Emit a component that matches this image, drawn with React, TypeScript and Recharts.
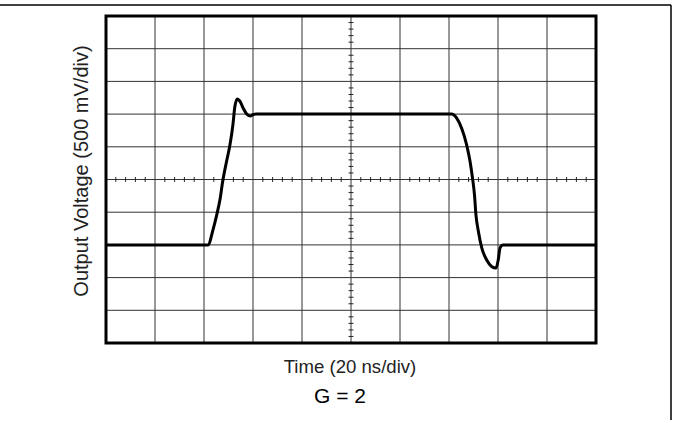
import { CartesianGrid, Line, LineChart, ReferenceArea, ReferenceLine, XAxis, YAxis } from "recharts";

// time in divisions (20 ns/div), voltage in divisions (500 mV/div)
const TIME_DIV = [
  0, 2.08, 2.19, 2.26, 2.33, 2.38, 2.46, 2.53, 2.59, 2.63, 2.68, 2.73, 2.8, 2.87, 2.94, 3.01, 3.07,
  7.05, 7.16, 7.26, 7.36, 7.43, 7.48, 7.52, 7.55, 7.6, 7.67, 7.77, 7.87, 7.96, 8.01, 8.04, 8.1, 10,
];
const VOLT_DIV = [
  3, 3, 3.5, 3.92, 4.42, 4.93, 5.55, 6.06, 6.67, 7.23, 7.46, 7.4, 7.18, 7.0, 6.94, 6.99, 7.0,
  7.0, 6.87, 6.56, 6.06, 5.55, 5.04, 4.53, 3.92, 3.41, 2.9, 2.54, 2.34, 2.29, 2.59, 2.9, 3.0, 3,
];

const GRID = [0, 1, 2, 3, 4, 5, 6, 7, 8, 9, 10];
const MINOR = Array.from({ length: 49 }, (_, i) => (i + 1) / 5).filter((v) => !Number.isInteger(v));

const data = TIME_DIV.map((t, i) => ({ t, v: VOLT_DIV[i] }));

const FONT = "'Liberation Sans', Arial, sans-serif";

export default function App() {
  return (
    <div style={{ position: "absolute", left: 0, top: 0, width: 673, height: 423 }}>
      <LineChart width={673} height={423} data={data} margin={{ top: 16, right: 77, bottom: 80, left: 106 }}>
        <XAxis type="number" dataKey="t" domain={[0, 10]} ticks={GRID} hide />
        <YAxis type="number" domain={[0, 10]} ticks={GRID} hide />
        <CartesianGrid stroke="#333" strokeWidth={1} />
        {MINOR.map((m) => (
          <ReferenceLine
            key={"h" + m}
            segment={[
              { x: m, y: 4.925 },
              { x: m, y: 5.075 },
            ]}
            stroke="#222"
            strokeWidth={1}
          />
        ))}
        {MINOR.map((m) => (
          <ReferenceLine
            key={"v" + m}
            segment={[
              { x: 4.95, y: m },
              { x: 5.05, y: m },
            ]}
            stroke="#222"
            strokeWidth={1}
          />
        ))}
        <ReferenceArea x1={0} x2={10} y1={0} y2={10} fill="none" stroke="#000" strokeWidth={3} />
        <Line
          type="monotone"
          dataKey="v"
          stroke="#000"
          strokeWidth={3}
          dot={false}
          isAnimationActive={false}
        />
      </LineChart>
      <svg
        width={673}
        height={423}
        style={{ position: "absolute", left: 0, top: 0, pointerEvents: "none" }}
      >
        <line x1={0} y1={5} x2={671} y2={5} stroke="#000" strokeWidth={1.5} />
        <line x1={671} y1={5} x2={671} y2={420} stroke="#000" strokeWidth={1.5} />
        <text
          transform="translate(88,171) rotate(-90)"
          textAnchor="middle"
          fontFamily={FONT}
          fontSize={20}
          fill="#222"
        >
          Output Voltage (500 mV/div)
        </text>
        <text x={350} y={373} textAnchor="middle" fontFamily={FONT} fontSize={18.6} fill="#222">
          Time (20 ns/div)
        </text>
        <text x={340} y={403} textAnchor="middle" fontFamily={FONT} fontSize={21} fill="#000">
          G = 2
        </text>
      </svg>
    </div>
  );
}
